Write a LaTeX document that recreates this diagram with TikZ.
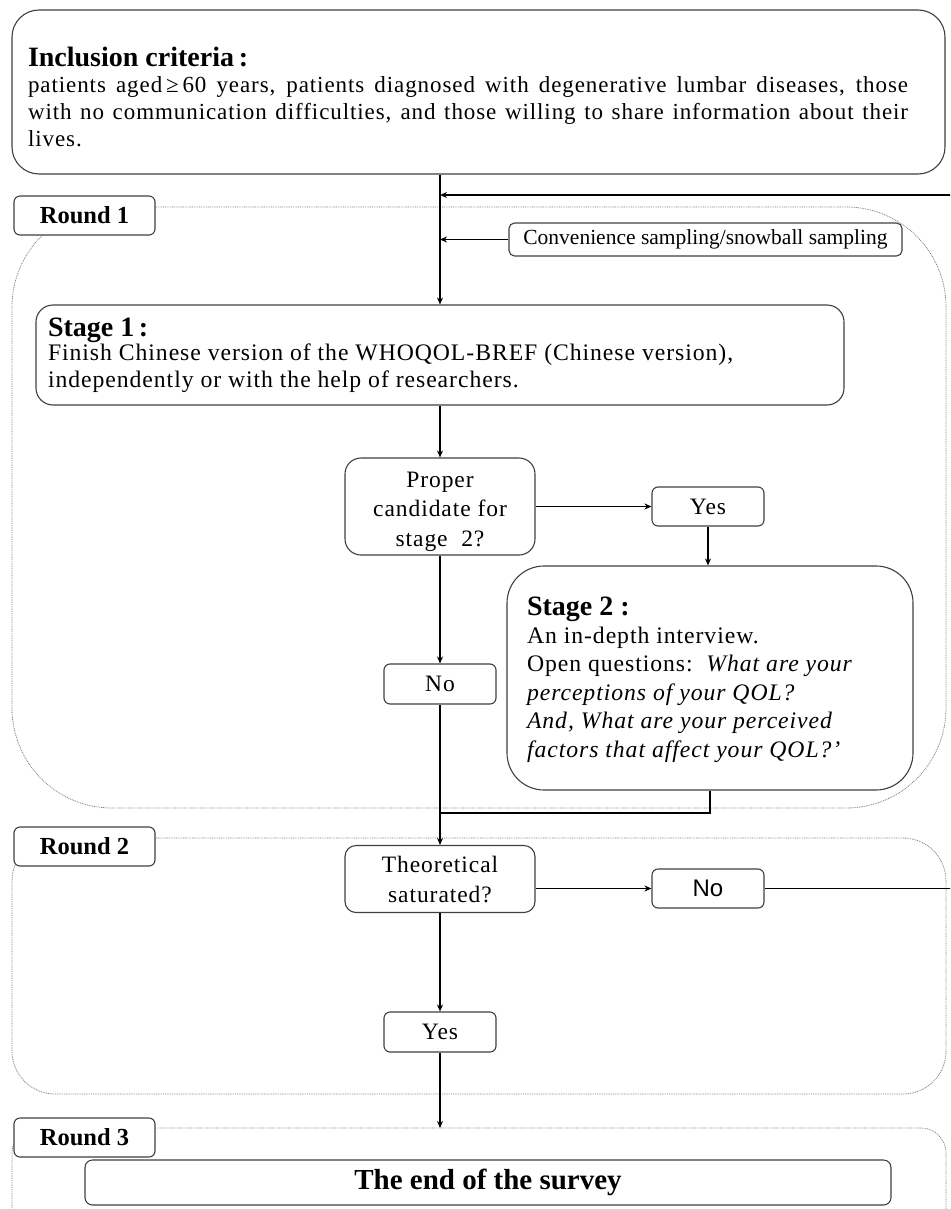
\documentclass[tikz,border=0pt]{standalone}
\usepackage{fontspec}
\setmainfont{Liberation Serif}[LetterSpace=4]
\newfontfamily\titlef{Liberation Serif}
\newfontfamily\sansf{Liberation Sans}
\usetikzlibrary{arrows.meta}
\tikzset{
  box/.style={draw=black!75, line width=1.1pt, rounded corners=#1, fill=white, inner sep=0pt, align=center},
  box/.default=7pt,
  cont/.style={draw=black!50, line width=0.8pt, dash pattern=on 0.9pt off 0.9pt},
  arr/.style={line width=1.4pt, -{Stealth[length=7pt,width=6pt]}},
  ln/.style={line width=1.4pt},
  rlabel/.style={box=6pt, minimum width=141pt, minimum height=39pt, font=\titlef\fontsize{24.5}{26}\selectfont\bfseries},
  small/.style={box=6pt, minimum width=112pt, minimum height=39pt, font=\fontsize{23.5}{28}\selectfont},
}
\begin{document}
\begin{tikzpicture}[x=1pt,y=-1pt]
\useasboundingbox (0,0) rectangle (950,1209);
\clip (0,0) rectangle (950,1209);
% round containers
\draw[cont, rounded corners=100pt] (12,207) rectangle (946,808);
\draw[cont, rounded corners=43pt] (12,838) rectangle (946,1094);
\draw[cont, rounded corners=25pt] (12,1128) rectangle (946,1290);
% round labels
\node[rlabel] (r1) at (84.5,215.5) {Round 1};
\node[rlabel] (r2) at (84.5,846.5) {Round 2};
\node[rlabel] (r3) at (84.5,1137.5) {Round 3};
% inclusion
\node[box=27pt, minimum width=933pt, minimum height=164pt] (inc) at (478.5,92)
 {\parbox[c][164pt][t]{880pt}{\titlef\bfseries\fontsize{28}{30}\selectfont\rule{0pt}{56.5pt}Inclusion criteria\,:\par\vspace{-1pt}%
 \normalfont\fontsize{23}{27}\selectfont patients aged\,≥\,60 years, patients diagnosed with degenerative lumbar diseases, those\linebreak with no communication difficulties, and those willing to share information about their\linebreak lives.}\hspace*{21pt}};
% sampling
\node[box=5.5pt, minimum width=393pt, minimum height=33pt, font=\titlef\fontsize{21.5}{24}\selectfont] (conv) at (705.5,239.5) {Convenience sampling/snowball sampling};
% stage 1
\node[box=17pt, minimum width=808pt, minimum height=100pt] (s1) at (440,355)
 {\parbox[c][100pt][t]{784pt}{\raggedright\titlef\bfseries\fontsize{28}{30}\selectfont\rule{0pt}{31pt}Stage 1\,:\par\vspace{-3pt}%
 \normalfont\fontsize{23.7}{27}\selectfont Finish Chinese version of the WHOQOL-BREF (Chinese version),\\ independently or with the help of researchers.}};
% proper candidate
\node[box=16pt, minimum width=190pt, minimum height=97pt] (pc) at (440,506.5)
 {\parbox[c][97pt][t]{190pt}{\centering\fontsize{23.5}{29.5}\selectfont\rule{0pt}{29pt}Proper\\candidate for\\stage\ \ 2?}};
\node[small] (yes1) at (708,506.5) {Yes};
\node[small, minimum height=40pt] (no1) at (440,684) {No};
% stage 2
\node[box=37pt, minimum width=406pt, minimum height=224pt] (s2) at (710,678)
 {\parbox[c][224pt][t]{366pt}{\raggedright\titlef\bfseries\fontsize{28}{30}\selectfont\rule{0pt}{49pt}Stage 2 :\par\vspace{-0.5pt}%
 \normalfont\fontsize{23.7}{28.5}\selectfont An in-depth interview.\\
 Open questions:\ \ \textit{What are your}\\
 \textit{perceptions of your QOL?}\\
 \textit{And, What are your perceived}\\
 \textit{factors that affect your QOL?’}}};
% round 2
\node[box=11pt, minimum width=190pt, minimum height=67pt] (theo) at (440,879)
 {\parbox[c][67pt][t]{190pt}{\centering\fontsize{23.5}{30}\selectfont\rule{0pt}{26.5pt}Theoretical\\saturated?}};
\node[small, font=\sansf\fontsize{24}{28}\selectfont] (no2) at (708,888.5) {No};
\node[small, minimum height=40pt] (yes2) at (440,1032) {Yes};
% round 3
\node[box=7.5pt, minimum width=806pt, minimum height=45pt, font=\titlef\fontsize{29}{32}\selectfont\bfseries] (end) at (488,1182.5) {The end of the survey};
% coordinates
\coordinate (lpA) at (975,888.5);
\coordinate (lpB) at (975,195);
\coordinate (mg) at (440,813);
\coordinate (r3top) at (440,1128);
% connectors
\draw[arr] (inc.south -| s1.north) -- (s1.north);
\draw[arr] (lpB) -- (lpB -| s1.north);
\draw[arr] (conv.west) -- (conv.west -| s1.north);
\draw[arr] (s1.south) -- (pc.north);
\draw[arr] (pc.east) -- (yes1.west);
\draw[arr] (yes1.south) -- (yes1.south |- s2.north);
\draw[arr] (pc.south) -- (no1.north);
\draw[arr] (no1.south) -- (theo.north);
\draw[ln] (s2.south) |- (mg);
\draw[arr] (theo.east |- no2.west) -- (no2.west);
\draw[ln] (no2.east) -- (lpA) -- (lpB);
\draw[arr] (theo.south) -- (yes2.north);
\draw[arr] (yes2.south) -- (r3top);
\end{tikzpicture}
\end{document}
